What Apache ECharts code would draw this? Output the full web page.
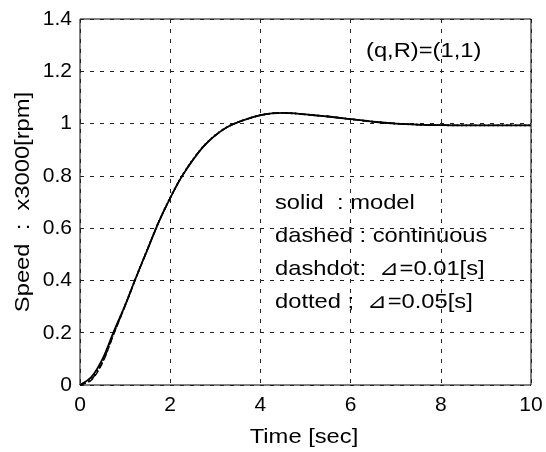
<!DOCTYPE html>
<html>
<head>
<meta charset="utf-8">
<title>Speed response</title>
<script src="https://cdn.jsdelivr.net/npm/echarts@6/dist/echarts.min.js"></script>
<style>
    html, body { margin: 0; padding: 0; background: #fff; }
    #chart { width: 546px; height: 452px; }
</style>
</head>
<body>
<div id="chart"></div>
<script>
'use strict';

// 时间轴 [sec]
var timeData = [0, 0.25, 0.5, 0.75, 1, 1.25, 1.5, 1.75, 2, 2.25, 2.5, 2.75, 3, 3.25, 3.5, 3.75,
    4, 4.25, 4.5, 4.75, 5, 5.5, 6, 6.5, 7, 7.5, 8, 8.5, 9, 9.5, 10];

// 速度 x3000[rpm]
var modelData = [0, 0.03, 0.1, 0.205, 0.305, 0.415, 0.52, 0.625, 0.715, 0.795, 0.86, 0.915, 0.955, 0.985, 1.005, 1.02,
    1.032, 1.039, 1.041, 1.039, 1.035, 1.027, 1.017, 1.007, 1.0, 0.996, 0.994, 0.993, 0.993, 0.993, 0.993];
var continuousData = [0, 0.018, 0.085, 0.195, 0.302, 0.413, 0.52, 0.625, 0.716, 0.796, 0.861, 0.915, 0.955, 0.985, 1.005, 1.02,
    1.032, 1.039, 1.041, 1.039, 1.035, 1.027, 1.017, 1.007, 1.0, 0.996, 0.994, 0.993, 0.993, 0.993, 0.993];
var dashdotData = [0, 0.02, 0.088, 0.197, 0.303, 0.414, 0.52, 0.625, 0.716, 0.796, 0.861, 0.915, 0.955, 0.985, 1.005, 1.02,
    1.032, 1.039, 1.041, 1.039, 1.035, 1.027, 1.017, 1.007, 1.0, 0.996, 0.994, 0.993, 0.993, 0.993, 0.993];
var dottedData = [0, 0.022, 0.09, 0.2, 0.305, 0.415, 0.522, 0.626, 0.717, 0.797, 0.862, 0.916, 0.956, 0.986, 1.005, 1.02,
    1.032, 1.039, 1.041, 1.039, 1.035, 1.027, 1.017, 1.007, 1.0, 0.996, 0.994, 0.993, 0.993, 0.993, 0.993];

// 文字说明
var noteLines = ['solid  : model', 'dashed : continuous', 'dashdot:  \u22BF=0.01[s]', 'dotted ;  \u22BF=0.05[s]'];
var paramText = '(q,R)=(1,1)';
var xTitle = 'Time [sec]';
var yTitle = 'Speed  :  x3000[rpm]';

var FONT = '"Liberation Sans", Arial, sans-serif',
    STRETCH = 1.13; // 原图文字横向略宽

var toPairs = function(ys) {
    var out = [];
    for (var i = 0; i < timeData.length; i++) {
        out.push([timeData[i], ys[i]]);
    }
    return out;
};

var makeSeries = function(name, ys, type, width) {
    return {
        name: name,
        type: 'line',
        data: toPairs(ys),
        smooth: 0.3,
        showSymbol: false,
        animation: false,
        lineStyle: { color: '#000', width: width, type: type }
    };
};

var makeText = function(str, x, y, align, extra) {
    var el = {
        type: 'text',
        x: x,
        y: y,
        scaleX: STRETCH,
        style: {
            text: str,
            fill: '#000',
            font: '21px ' + FONT,
            textAlign: align || 'left',
            textVerticalAlign: 'middle'
        }
    };
    for (var k in extra) { el[k] = extra[k]; }
    return el;
};

var graphics = [];
for (var i = 0; i < noteLines.length; i++) {
    graphics.push(makeText(noteLines[i], 275, 203 + i * 33));
}
graphics.push(makeText(paramText, 366, 51));
graphics.push(makeText(xTitle, 304, 437, 'center'));
graphics.push(makeText(yTitle, 23, 202, 'center', { rotation: Math.PI / 2 }));

var gridLine = { show: true, lineStyle: { color: '#222', width: 1, type: [4, 6] } };

var chart = echarts.init(document.getElementById('chart'), null, { renderer: 'canvas' });
chart.setOption({
    backgroundColor: '#fff',
    animation: false,
    grid: {
        left: 80, right: 15, top: 19, bottom: 67,
        show: true, borderColor: '#000', borderWidth: 1
    },
    xAxis: {
        type: 'value',
        min: 0, max: 10, interval: 2,
        axisLine: { show: false },
        axisTick: { show: false },
        axisLabel: { color: '#000', fontSize: 21, fontFamily: FONT, margin: 10 },
        splitLine: gridLine
    },
    yAxis: {
        type: 'value',
        min: 0, max: 1.4, interval: 0.2,
        axisLine: { show: false },
        axisTick: { show: false },
        axisLabel: { color: '#000', fontSize: 21, fontFamily: FONT, margin: 8 },
        splitLine: gridLine
    },
    series: [
        makeSeries('model', modelData, 'solid', 1.8),
        makeSeries('continuous', continuousData, [6, 3], 1.4),
        makeSeries('dashdot', dashdotData, [6, 3, 1, 3], 1.4),
        makeSeries('dotted', dottedData, [1.5, 3], 1.8)
    ],
    graphic: graphics
});
</script>
</body>
</html>
